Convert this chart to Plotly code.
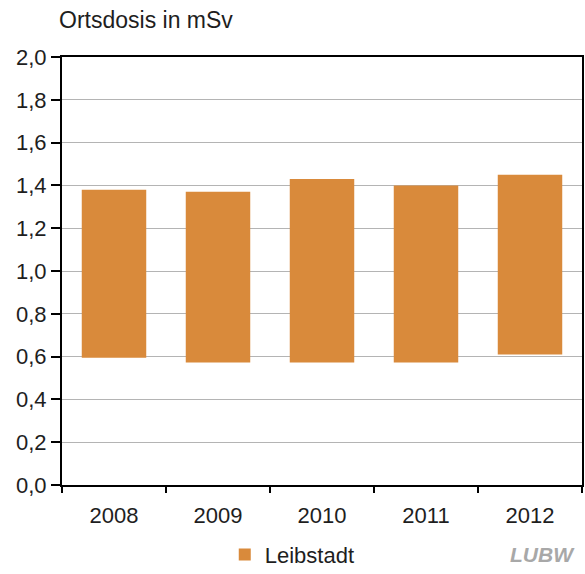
import plotly.graph_objects as go

# Ortsdosis (local dose) around Leibstadt, annual range in mSv
years = ["2008", "2009", "2010", "2011", "2012"]
dose_low = [0.595, 0.572, 0.572, 0.572, 0.61]
dose_high = [1.38, 1.37, 1.43, 1.40, 1.45]

y_ticks = [0.0, 0.2, 0.4, 0.6, 0.8, 1.0, 1.2, 1.4, 1.6, 1.8, 2.0]
y_tick_text = [f"{v:.1f}".replace(".", ",") for v in y_ticks]

bar_color = "#D98A3B"
text_color = "#1e1e1e"
font_family = "Liberation Sans, Arial, sans-serif"
font_size = 22

fig = go.Figure()
fig.add_trace(go.Bar(
    x=years,
    base=dose_low,
    y=[h - l for h, l in zip(dose_high, dose_low)],
    name="Leibstadt",
    marker=dict(color=bar_color, line=dict(width=0)),
    width=0.62,
))

fig.update_layout(
    width=585,
    height=574,
    margin=dict(l=62, r=3, t=57, b=89, autoexpand=False),
    paper_bgcolor="white",
    plot_bgcolor="white",
    font=dict(family=font_family, size=font_size, color=text_color),
    showlegend=True,
    legend=dict(
        orientation="h",
        x=0.313, xanchor="left",
        y=-0.163, yanchor="middle",
        font=dict(size=font_size, color=text_color),
        itemwidth=30,
        bgcolor="rgba(0,0,0,0)",
    ),
)

fig.update_xaxes(
    type="category",
    showline=True, linecolor="black", linewidth=2,
    mirror=True,
    ticks="outside", tickson="boundaries", ticklen=6, tickwidth=2, tickcolor="black",
    showgrid=False,
    ticklabelstandoff=10,
    tickfont=dict(size=font_size, color=text_color),
)
fig.update_yaxes(
    range=[0, 2.0],
    tickvals=y_ticks,
    ticktext=y_tick_text,
    showline=True, linecolor="black", linewidth=2,
    mirror=True,
    ticks="outside", ticklen=9, tickwidth=2, tickcolor="black",
    showgrid=True, gridcolor="#b4b4b4", gridwidth=1.2,
    zeroline=False,
    tickfont=dict(size=font_size, color=text_color),
)

# Axis title placed above the plot, left-aligned
fig.add_annotation(
    text="Ortsdosis in mSv",
    xref="paper", yref="paper",
    x=-0.01, y=1.0, yshift=37,
    xanchor="left", yanchor="middle",
    showarrow=False,
    font=dict(size=23, color=text_color),
)

# Agency logo mark in the lower right corner
fig.add_annotation(
    text="<b><i>LUBW</i></b>",
    xref="paper", yref="paper",
    x=0.99, y=-0.163,
    xanchor="right", yanchor="middle",
    showarrow=False,
    font=dict(size=21, color="#a8a8a8", family="Liberation Sans Narrow, Liberation Sans, sans-serif"),
)

fig.write_html("out.html")
